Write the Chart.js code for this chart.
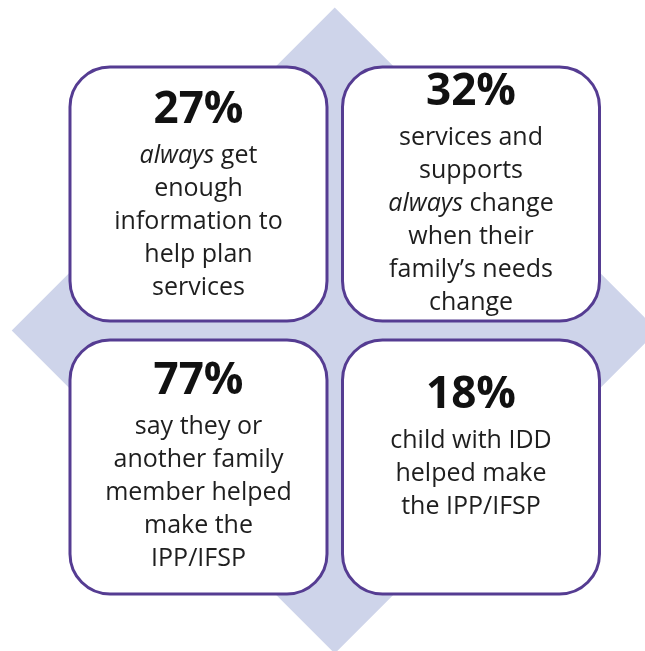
<!DOCTYPE html>
<html lang="en">

<head>
    <meta charset="UTF-8">
    <meta name="viewport" content="width=device-width, initial-scale=1.0">
    <title>Family survey results</title>
    <script src="https://cdn.jsdelivr.net/npm/chart.js"></script>
    <style>
        body { margin: 0; background: #ffffff; }
        #wrap { width: 645px; height: 651px; }
    </style>
</head>

<body>
    <div id="wrap">
        <canvas id="myChart"></canvas>
    </div>

<script>
    // survey results, one card per stat (read left to right, top to bottom)
    const statValues = [27, 32, 77, 18];
    const statCols = [0, 1, 0, 1];
    const statRows = [0, 0, 1, 1];
    // *word* = italic
    const statLines = [
        ['*always* get', 'enough', 'information to', 'help plan', 'services'],
        ['services and', 'supports', '*always* change', 'when their', 'family\u2019s needs', 'change'],
        ['say they or', 'another family', 'member helped', 'make the', 'IPP/IFSP'],
        ['child with IDD', 'helped make', 'the IPP/IFSP']
    ];

    // layout bits
    const cardW = 257, cardH = 254, cardRadius = 40;
    const headlineOffset = [56, 38, 54, 68];   // baseline of the % from card top
    const purple = '#553c92';
    const diamondColor = '#ced4ea';

    const diamondPlugin = {
        id: 'diamond',
        beforeDatasetsDraw(chart) {
            const pts = chart.getDatasetMeta(0).data;
            const cx = pts.reduce((s, p) => s + p.x, 0) / pts.length;
            const cy = pts.reduce((s, p) => s + p.y, 0) / pts.length;
            const r = 323;
            const ctx = chart.ctx;
            ctx.save();
            ctx.beginPath();
            ctx.moveTo(cx, cy - r);
            ctx.lineTo(cx + r, cy);
            ctx.lineTo(cx, cy + r);
            ctx.lineTo(cx - r, cy);
            ctx.closePath();
            ctx.fillStyle = diamondColor;
            ctx.fill();
            ctx.restore();
        }
    };

    function roundedRect(ctx, x, y, w, h, r) {
        ctx.beginPath();
        ctx.moveTo(x + r, y);
        ctx.arcTo(x + w, y, x + w, y + h, r);
        ctx.arcTo(x + w, y + h, x, y + h, r);
        ctx.arcTo(x, y + h, x, y, r);
        ctx.arcTo(x, y, x + w, y, r);
        ctx.closePath();
    }

    function drawMixedLine(ctx, line, cx, y) {
        const parts = line.split('*');
        const fonts = parts.map((p, i) => (i % 2 ? 'italic ' : '') + '25px "Open Sans", sans-serif');
        let total = 0;
        parts.forEach((p, i) => { ctx.font = fonts[i]; total += ctx.measureText(p).width; });
        let x = cx - total / 2;
        parts.forEach((p, i) => {
            ctx.font = fonts[i];
            ctx.fillText(p, x, y);
            x += ctx.measureText(p).width;
        });
    }

    const cardsPlugin = {
        id: 'cards',
        afterDatasetsDraw(chart) {
            const ctx = chart.ctx;
            const pts = chart.getDatasetMeta(0).data;
            pts.forEach((p, i) => {
                const left = p.x - cardW / 2, top = p.y - cardH / 2;
                ctx.save();
                roundedRect(ctx, left, top, cardW, cardH, cardRadius);
                ctx.fillStyle = '#ffffff';
                ctx.fill();
                ctx.lineWidth = 3;
                ctx.strokeStyle = purple;
                ctx.stroke();

                ctx.textBaseline = 'alphabetic';
                ctx.fillStyle = '#111111';
                ctx.textAlign = 'center';
                ctx.font = 'bold 44px "Open Sans", sans-serif';
                let y = top + headlineOffset[i];
                ctx.fillText(statValues[i] + '%', p.x, y);

                ctx.textAlign = 'left';
                ctx.fillStyle = '#1e1e1e';
                y += 40;
                statLines[i].forEach(line => {
                    drawMixedLine(ctx, line, p.x, y);
                    y += 33;
                });
                ctx.restore();
            });
        }
    };

    const ctx = document.getElementById('myChart').getContext('2d');
    const statChart = new Chart(ctx, {
        type: 'scatter',
        data: {
            datasets: [{
                data: statValues.map((v, i) => ({ x: statCols[i], y: statRows[i] })),
                pointRadius: 0,
                pointHoverRadius: 0
            }]
        },
        options: {
            responsive: true,
            maintainAspectRatio: false,
            animation: false,
            layout: { padding: 0 },
            plugins: {
                legend: { display: false },
                tooltip: { enabled: false }
            },
            scales: {
                x: { type: 'linear', display: false, min: -0.7284, max: 1.6385 },
                y: { type: 'linear', display: false, reverse: true, min: -0.7106, max: 1.674 }
            }
        },
        plugins: [diamondPlugin, cardsPlugin]
    });
</script>
</body>

</html>
